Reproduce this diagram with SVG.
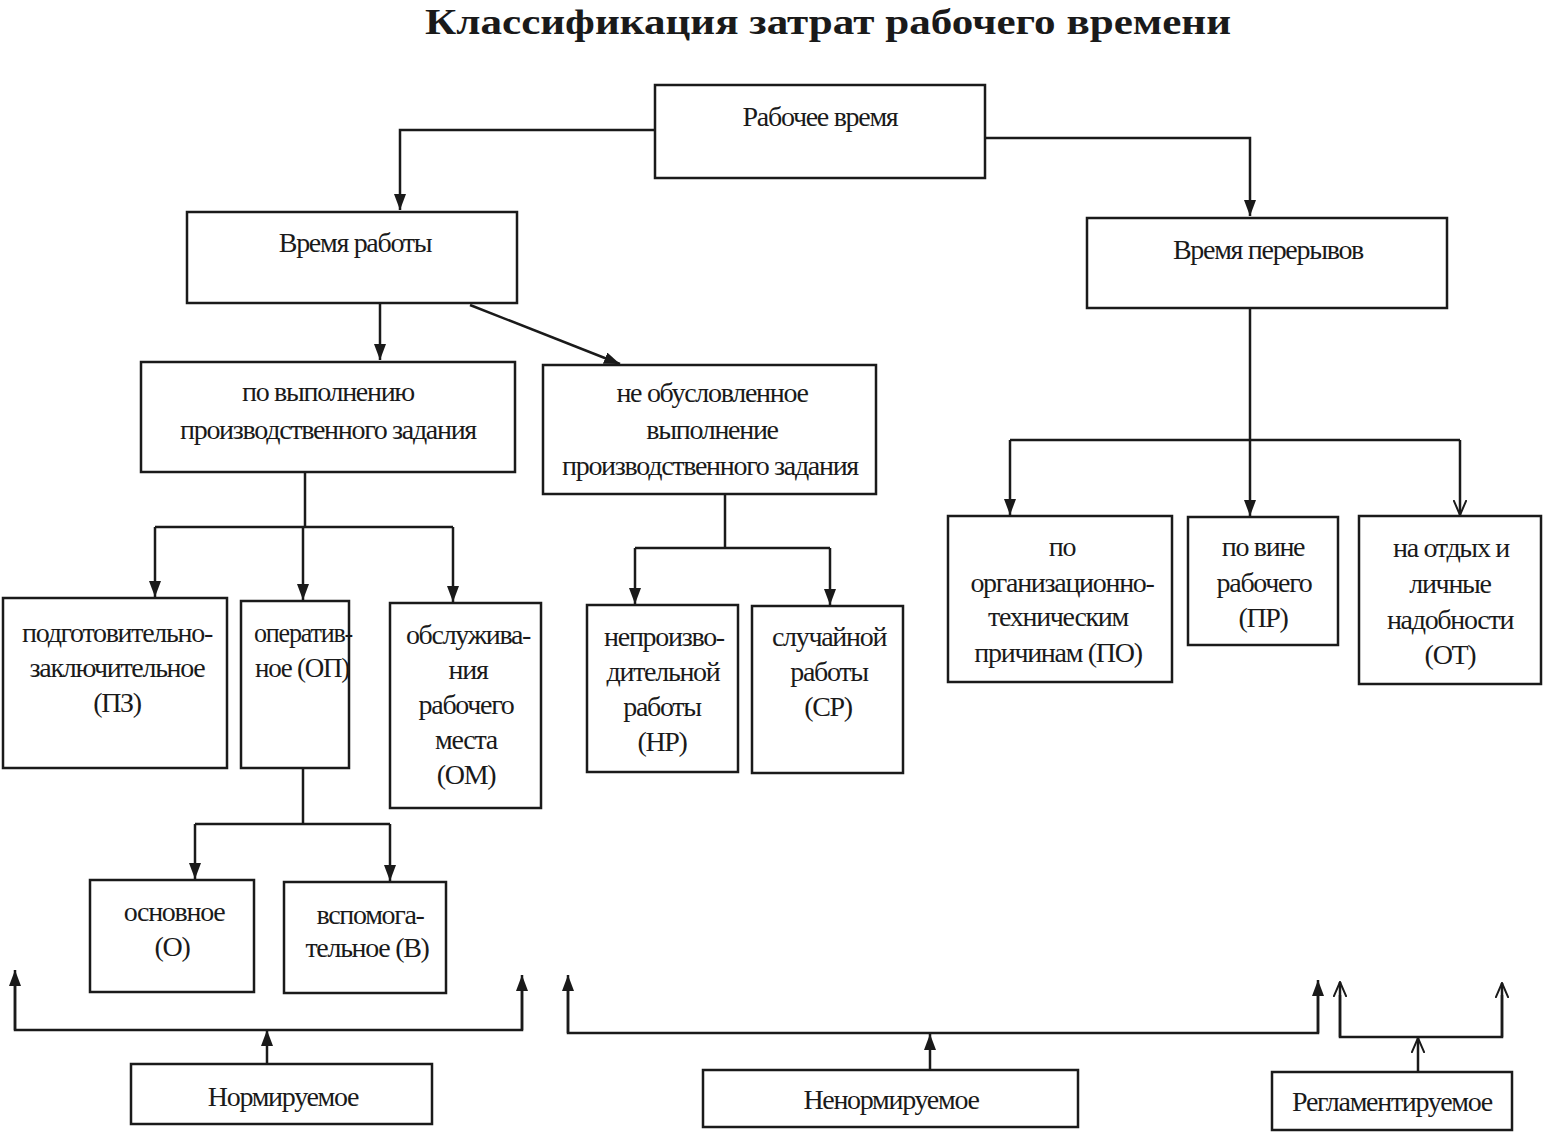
<svg xmlns="http://www.w3.org/2000/svg" width="1553" height="1134" viewBox="0 0 1553 1134">
<style>
.bg{fill:#ffffff}
.box{fill:none;stroke:#1a1a1a;stroke-width:2.5}
.ln{fill:none;stroke:#1a1a1a;stroke-width:2.5}
.t{font-family:"Liberation Serif","Times New Roman",serif;font-size:28px;fill:#1a1a1a;text-anchor:middle;letter-spacing:-1.3px}
.title{font-family:"Liberation Serif","Times New Roman",serif;font-size:36px;font-weight:bold;fill:#1a1a1a;text-anchor:middle}
</style>
<defs>
<marker id="a" viewBox="0 0 16 12" refX="16" refY="6" markerWidth="16" markerHeight="12" markerUnits="userSpaceOnUse" orient="auto">
<path d="M0,0 L16,6 L0,12 z" fill="#1a1a1a"/>
</marker>
<marker id="o" viewBox="0 0 16 14" refX="15" refY="7" markerWidth="16" markerHeight="14" markerUnits="userSpaceOnUse" orient="auto">
<path d="M0,0.5 L15,7 L0,13.5" fill="none" stroke="#1a1a1a" stroke-width="2"/>
</marker>
</defs>
<rect class="bg" x="0" y="0" width="1553" height="1134"/>
<text class="title" x="828" y="34" textLength="806" lengthAdjust="spacingAndGlyphs">Классификация затрат рабочего времени</text>

<g id="connectors">
<polyline class="ln" points="655,130 400,130 400,210" marker-end="url(#a)"/>
<polyline class="ln" points="985,138 1250,138 1250,216" marker-end="url(#a)"/>
<polyline class="ln" points="380,303 380,360" marker-end="url(#a)"/>
<line class="ln" x1="470" y1="305" x2="620" y2="364" marker-end="url(#a)"/>
<polyline class="ln" points="305,472 305,527"/>
<polyline class="ln" points="155,527 453,527"/>
<polyline class="ln" points="155,527 155,597" marker-end="url(#a)"/>
<polyline class="ln" points="303,527 303,600" marker-end="url(#a)"/>
<polyline class="ln" points="453,527 453,602" marker-end="url(#a)"/>
<polyline class="ln" points="303,768 303,824"/>
<polyline class="ln" points="195,824 390,824"/>
<polyline class="ln" points="195,824 195,879" marker-end="url(#a)"/>
<polyline class="ln" points="390,824 390,881" marker-end="url(#a)"/>
<polyline class="ln" points="725,494 725,548"/>
<polyline class="ln" points="635,548 830,548"/>
<polyline class="ln" points="635,548 635,604" marker-end="url(#a)"/>
<polyline class="ln" points="830,548 830,605" marker-end="url(#a)"/>
<polyline class="ln" points="1250,308 1250,516" marker-end="url(#a)"/>
<polyline class="ln" points="1010,440 1460,440"/>
<polyline class="ln" points="1010,440 1010,515" marker-end="url(#a)"/>
<polyline class="ln" points="1460,440 1460,515" marker-end="url(#o)"/>
<polyline class="ln" points="267,1064 267,1030" marker-end="url(#a)"/>
<polyline class="ln" points="15,985 15,1030 522,1030 522,990"/>
<polyline class="ln" points="15,1030 15,970" marker-end="url(#a)"/>
<polyline class="ln" points="522,1030 522,975" marker-end="url(#a)"/>
<polyline class="ln" points="930,1070 930,1034" marker-end="url(#a)"/>
<polyline class="ln" points="568,990 568,1033 1318,1033 1318,995"/>
<polyline class="ln" points="568,1033 568,975" marker-end="url(#a)"/>
<polyline class="ln" points="1318,1033 1318,980" marker-end="url(#a)"/>
<polyline class="ln" points="1418,1072 1418,1038" marker-end="url(#o)"/>
<polyline class="ln" points="1340,995 1340,1037 1502,1037 1502,995"/>
<polyline class="ln" points="1340,1037 1340,982" marker-end="url(#o)"/>
<polyline class="ln" points="1502,1037 1502,983" marker-end="url(#o)"/>
</g>

<g id="n-rabochee"><rect class="box" x="655" y="85" width="330" height="93"/><text class="t" x="820" y="126">Рабочее время</text></g>
<g id="n-vremya-raboty"><rect class="box" x="187" y="212" width="330" height="91"/><text class="t" x="355" y="252">Время работы</text></g>
<g id="n-vremya-pereryvov"><rect class="box" x="1087" y="218" width="360" height="90"/><text class="t" x="1268" y="259">Время перерывов</text></g>
<g id="n-po-vypolneniyu"><rect class="box" x="141" y="362" width="374" height="110"/><text class="t" x="328" y="401">по выполнению</text><text class="t" x="328" y="439">производственного задания</text></g>
<g id="n-ne-obuslovlennoe"><rect class="box" x="543" y="365" width="333" height="129"/><text class="t" x="712" y="402">не обусловленное</text><text class="t" x="712" y="439">выполнение</text><text class="t" x="710" y="475">производственного задания</text></g>
<g id="n-pz"><rect class="box" x="3" y="598" width="224" height="170"/><text class="t" x="117" y="642">подготовительно-</text><text class="t" x="117" y="677">заключительное</text><text class="t" x="117" y="712">(ПЗ)</text></g>
<g id="n-op"><rect class="box" x="241" y="601" width="108" height="167"/><text class="t" x="303" y="642" textLength="98" lengthAdjust="spacingAndGlyphs">оператив-</text><text class="t" x="302" y="677" textLength="94" lengthAdjust="spacingAndGlyphs">ное (ОП)</text></g>
<g id="n-om"><rect class="box" x="390" y="603" width="151" height="205"/><text class="t" x="468" y="644">обслужива-</text><text class="t" x="468" y="679">ния</text><text class="t" x="466" y="714">рабочего</text><text class="t" x="466" y="749">места</text><text class="t" x="466" y="784">(ОМ)</text></g>
<g id="n-o"><rect class="box" x="90" y="880" width="164" height="112"/><text class="t" x="174" y="921">основное</text><text class="t" x="172" y="956">(О)</text></g>
<g id="n-v"><rect class="box" x="284" y="882" width="162" height="111"/><text class="t" x="370" y="924">вспомога-</text><text class="t" x="367" y="957">тельное (В)</text></g>
<g id="n-nr"><rect class="box" x="587" y="605" width="151" height="167"/><text class="t" x="664" y="646">непроизво-</text><text class="t" x="663" y="681">дительной</text><text class="t" x="662" y="716">работы</text><text class="t" x="662" y="751">(НР)</text></g>
<g id="n-sr"><rect class="box" x="752" y="606" width="151" height="167"/><text class="t" x="829" y="646">случайной</text><text class="t" x="829" y="681">работы</text><text class="t" x="828" y="716">(СР)</text></g>
<g id="n-po"><rect class="box" x="948" y="516" width="224" height="166"/><text class="t" x="1062" y="556">по</text><text class="t" x="1062" y="592">организационно-</text><text class="t" x="1058" y="626">техническим</text><text class="t" x="1058" y="662">причинам (ПО)</text></g>
<g id="n-pr"><rect class="box" x="1188" y="517" width="150" height="128"/><text class="t" x="1263" y="556">по вине</text><text class="t" x="1264" y="592">рабочего</text><text class="t" x="1263" y="627">(ПР)</text></g>
<g id="n-ot"><rect class="box" x="1359" y="516" width="182" height="168"/><text class="t" x="1451" y="557">на отдых и</text><text class="t" x="1450" y="593">личные</text><text class="t" x="1450" y="629">надобности</text><text class="t" x="1450" y="664">(ОТ)</text></g>
<g id="n-normiruemoe"><rect class="box" x="131" y="1064" width="301" height="60"/><text class="t" x="283" y="1106">Нормируемое</text></g>
<g id="n-nenormiruemoe"><rect class="box" x="703" y="1070" width="375" height="57"/><text class="t" x="891" y="1109">Ненормируемое</text></g>
<g id="n-reglamentiruemoe"><rect class="box" x="1272" y="1072" width="240" height="58"/><text class="t" x="1392" y="1111">Регламентируемое</text></g>
</svg>
